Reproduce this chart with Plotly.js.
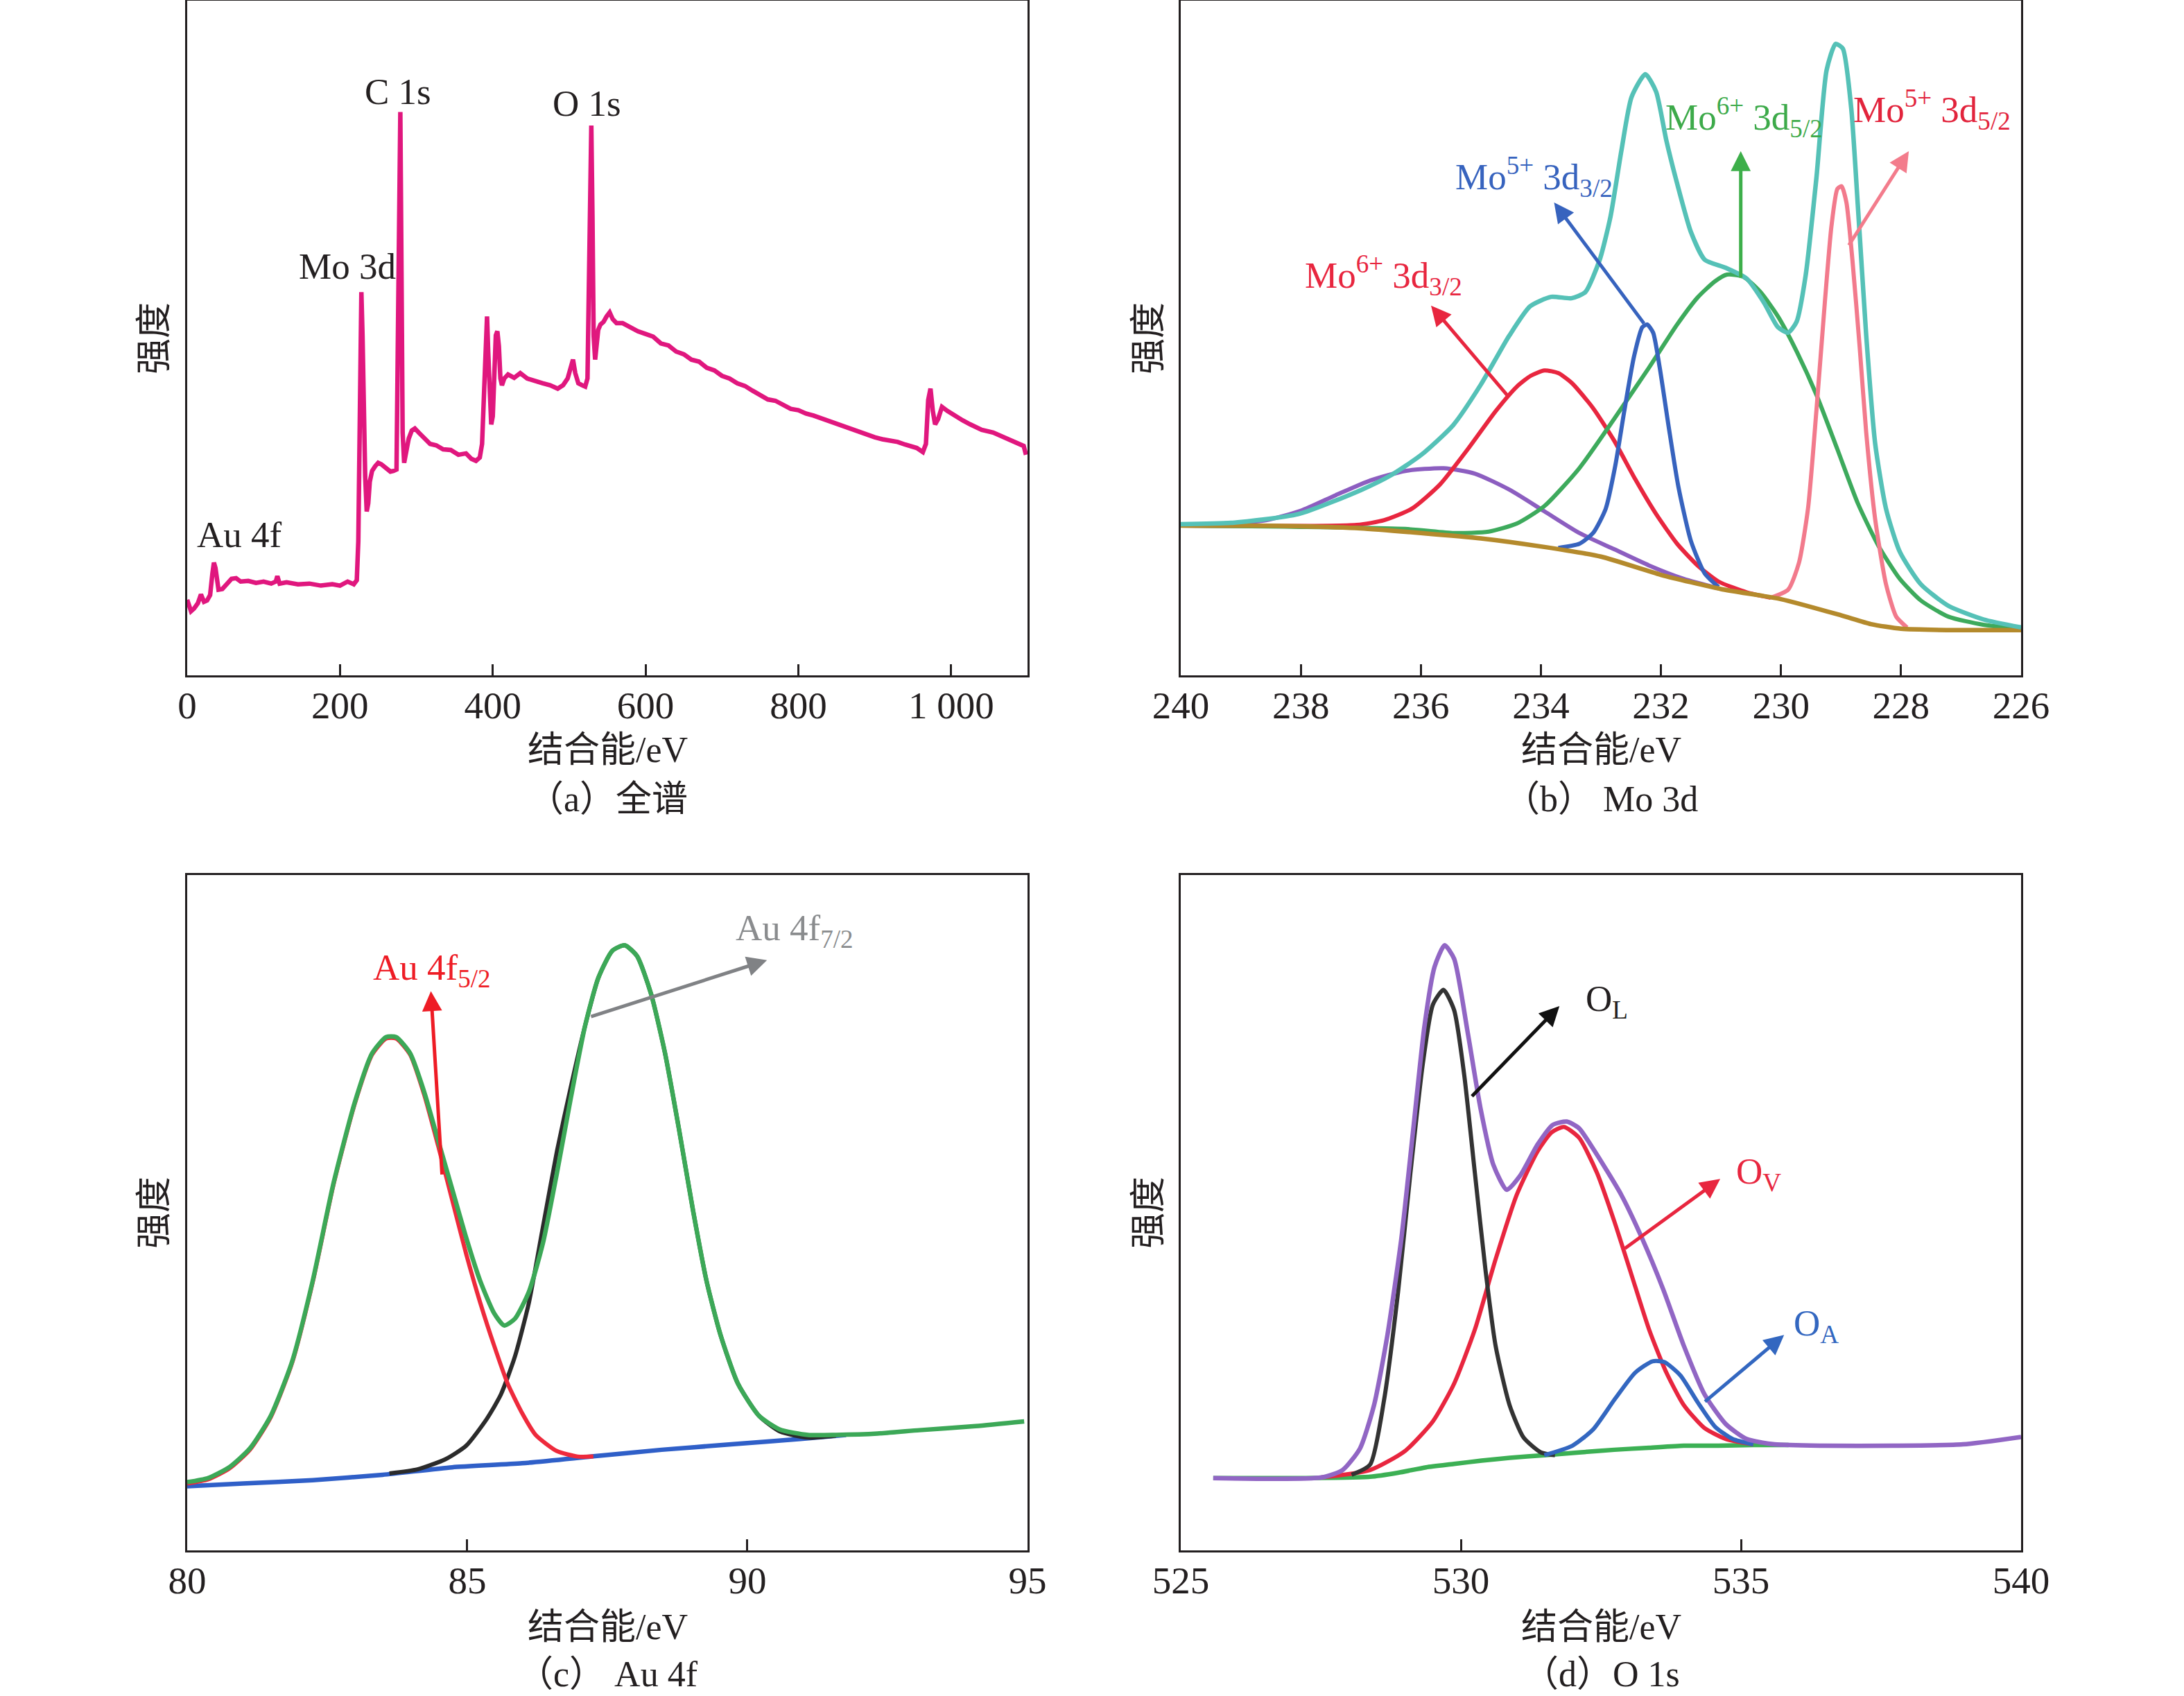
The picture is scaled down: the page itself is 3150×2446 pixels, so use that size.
<!DOCTYPE html>
<html>
<head>
<meta charset="utf-8">
<script src="https://cdn.plot.ly/plotly-3.0.1.min.js"></script>
<style>html,body{margin:0;padding:0;background:#fff;}#chart{width:3150px;height:2446px;}</style>
</head>
<body>
<div id="chart"></div>
<script>
// ---------- (a) survey ----------
const surveyE = [0,5,9,14,18,22,26,30,33,35,37,41,46,52,58,64,70,80,90,100,110,116,118,121,130,145,160,175,190,200,210,218,222,224,225.5,227,228,229.5,231,233,235,237,239,242,246,250,254,258,262,266,270,274,276,277.5,279,280.5,282,284,287,290,294,298,303,310,318,326,335,345,355,365,372,378,383,386,389,391,392.5,394,396,398,400,402,404,406,408,410,412,415,420,428,436,445,455,465,475,485,492,498,502,505,508,512,517,521,524,526,527.5,529,530.5,532,534,536,538,541,545,549,553,557,562,570,580,590,600,610,620,630,640,650,660,670,680,690,700,710,720,730,740,750,760,770,780,790,800,810,820,830,840,850,860,870,880,890,900,910,920,930,940,955,963,967,970,973,976,979,983,988,995,1005,1015,1025,1040,1055,1070,1085,1095,1098];
const surveyI = [11.2,9.5,9.9,10.7,12.0,10.9,11.1,11.9,15.1,16.7,15.9,12.7,12.8,13.5,14.3,14.4,13.9,14.0,13.7,13.9,13.6,13.9,14.7,13.6,13.8,13.5,13.6,13.3,13.5,13.3,13.9,13.5,14.1,19.9,36.0,55.2,56.8,50.4,39.2,29.5,24.3,25.5,28.7,30.3,31.0,31.5,31.3,31.0,30.7,30.2,30.3,30.5,52.0,82.5,83.5,60.0,36.0,31.5,33.1,35.1,36.3,36.6,36.0,35.1,34.3,34.1,33.5,33.4,32.7,32.9,32.1,31.8,32.3,34.3,44.0,52.8,53.2,48.0,40.0,37.2,38.4,44.0,50.4,51.0,48.8,44.0,43.0,44.0,44.6,44.1,44.8,44.0,43.6,43.3,43.0,42.5,43.0,44.0,45.6,46.8,44.8,43.3,43.0,42.8,44.0,64.0,80.9,81.5,68.1,50.4,46.8,48.8,51.2,52.0,52.4,53.2,53.8,52.8,52.2,52.2,51.6,51.0,50.6,50.2,49.2,48.9,48.0,47.6,46.8,46.5,45.6,45.2,44.4,44.0,43.3,42.9,42.2,41.6,40.9,40.7,40.1,39.5,39.3,38.8,38.5,38.1,37.6,37.2,36.8,36.5,36.0,35.7,35.3,35.0,34.8,34.6,34.2,33.7,33.1,34.3,40.8,42.5,39.2,37.2,38.0,39.8,39.2,38.4,37.8,37.2,36.4,36.0,35.3,34.6,34.0,32.7];
const surveyTickVals = [0,200,400,600,800,1000];
const surveyTickText = ['0','200','400','600','800','1 000'];

// ---------- (b) Mo 3d ----------
const moBgE = [240,239,238,237,236,235,234,233,232,231,230,229,228.5,228,227,226];
const moBgI = [22.2,22.2,22.1,21.8,21.1,20.3,19.1,17.6,14.9,12.8,11.3,8.9,7.6,6.9,6.7,6.7];
const moEnvE = [240,239.16,238.04,236.99,236.49,235.99,235.46,235.0,234.53,234.18,233.83,233.49,233.26,233.02,232.84,232.66,232.49,232.26,232.08,231.91,231.73,231.50,231.27,230.92,230.57,230.28,230.05,229.88,229.74,229.59,229.41,229.24,229.09,228.97,228.83,228.72,228.58,228.43,228.25,228.02,227.67,227.21,226.63,226.0];
const moEnvI = [22.4,22.6,23.9,27.5,29.7,32.7,37.1,43.1,50.3,54.7,56.1,55.9,56.8,61.6,68.0,77.7,85.7,89.1,86.5,79.3,72.9,65.7,61.6,60.4,58.8,55.2,51.6,50.8,52.4,59.2,73.7,89.7,93.6,92.9,84.1,69.7,50.4,34.3,24.7,18.3,13.5,10.3,8.3,7.1];
const moPurpleE = [240,238.58,238.0,237.42,236.84,236.26,235.62,235.1,234.52,233.94,233.36,232.78,232.2,231.62,231.04];
const moPurpleI = [22.2,23.0,24.4,26.7,28.9,30.3,30.7,29.9,27.5,24.3,21.1,18.7,16.3,14.3,12.9];
const mo6p32E = [240,237.07,236.61,236.15,235.68,235.22,234.75,234.4,234.17,233.94,233.71,233.48,233.13,232.78,232.43,232.08,231.73,231.39,231.04,230.57,230.17];
const mo6p32I = [22.2,22.3,23.0,24.7,28.3,33.5,39.2,42.8,44.4,45.2,44.8,43.3,39.6,34.8,29.1,23.9,19.5,16.3,13.9,12.3,11.5];
const mo5p32E = [233.71,233.36,233.13,232.92,232.76,232.61,232.45,232.31,232.23,232.13,232.02,231.87,231.71,231.50,231.27,231.04];
const mo5p32I = [18.9,19.5,21.1,24.7,31.1,39.2,47.2,51.6,52.0,50.8,45.6,36.8,28.0,19.9,15.1,13.1];
const mo6p52E = [240,236.26,235.45,234.87,234.4,233.94,233.36,232.78,232.2,231.73,231.39,231.1,230.9,230.63,230.34,230.05,229.76,229.41,229.06,228.72,228.37,228.02,227.67,227.21,226.63,226.0];
const mo6p52I = [22.2,21.7,21.1,21.3,22.5,25.1,30.7,38.0,45.6,52.0,56.0,58.4,59.4,59.1,56.8,53.2,48.4,41.6,33.5,25.5,19.1,14.3,11.1,8.7,7.5,6.9];
const mo5p52E = [230.17,229.88,229.70,229.55,229.41,229.27,229.16,229.06,228.99,228.91,228.81,228.69,228.58,228.43,228.25,228.08,227.9];
const mo5p52I = [11.5,12.7,16.7,24.7,39.2,55.2,66.5,72.1,72.5,70.1,61.6,48.8,36.0,23.1,13.5,8.7,7.1];
const moTickVals = [240,238,236,234,232,230,228,226];

// ---------- (c) Au 4f ----------
const auBgE = [80,81.0,82.24,83.49,84.73,85.98,87.22,88.47,89.71,90.95,91.76];
const auBgI = [9.5,9.9,10.4,11.2,12.3,12.9,13.9,14.9,15.7,16.5,17.1];
const auEnvE = [80,80.37,80.75,81.12,81.49,81.87,82.24,82.61,82.99,83.30,83.55,83.73,83.98,84.23,84.48,84.73,84.98,85.23,85.48,85.66,85.85,86.10,86.35,86.60,86.85,87.10,87.34,87.59,87.81,88.03,88.28,88.53,88.78,89.03,89.27,89.52,89.83,90.21,90.58,91.08,91.58,92.32,93.07,94.07,94.94];
const auEnvI = [10.1,10.7,12.3,15.1,19.9,27.9,39.9,54.3,66.3,73.6,76.0,76.0,73.6,67.9,60.7,53.5,46.3,39.9,35.1,33.3,34.3,38.3,45.5,55.9,67.1,77.6,84.8,88.8,89.6,88.0,82.4,73.6,62.3,50.3,39.9,31.9,24.7,19.9,17.9,17.1,17.1,17.3,17.8,18.4,19.1];
const au52E = [80,80.37,80.75,81.12,81.49,81.87,82.24,82.61,82.99,83.30,83.55,83.73,83.98,84.23,84.48,84.73,84.98,85.23,85.48,85.72,85.98,86.22,86.60,86.97,87.25];
const au52I = [9.9,10.5,12.1,14.9,19.7,27.7,39.7,54.1,66.1,73.4,75.8,75.8,73.4,67.5,59.9,51.9,43.9,36.7,30.3,24.7,20.3,17.1,14.7,13.9,13.9];
const au72E = [83.61,84.11,84.61,84.98,85.35,85.60,85.85,86.10,86.35,86.60,86.85,87.10,87.34,87.59,87.81,88.03,88.28,88.53,88.78,89.03,89.27,89.52,89.83,90.21,90.58,91.08,91.58];
const au72I = [11.4,12.0,13.5,15.5,19.5,23.1,28.7,36.7,47.9,59.1,68.7,77.6,84.8,88.8,89.6,88.0,82.4,73.6,62.3,50.3,39.9,31.9,24.7,19.9,17.6,16.7,17.0];
const auTickVals = [80,85,90,95];

// ---------- (d) O 1s ----------
const oBgE = [525.58,527.14,528.38,528.88,529.38,529.88,530.37,530.87,531.49,532.11,532.74,533.36,533.98,534.6,535.22,535.85];
const oBgI = [10.7,10.7,10.9,11.5,12.3,12.8,13.3,13.7,14.1,14.5,14.9,15.2,15.5,15.5,15.6,15.6];
const oEnvE = [525.58,527.51,527.89,528.2,528.45,528.69,528.94,529.15,529.35,529.53,529.71,529.88,530.12,530.35,530.58,530.82,531.06,531.37,531.64,531.89,532.11,532.36,532.86,533.23,533.61,533.98,534.35,534.73,535.1,535.6,536.47,537.71,538.96,540.0];
const oEnvI = [10.7,10.8,11.9,15.1,21.5,31.9,46.3,62.3,77.6,86.4,89.6,87.6,76.8,65.5,57.1,53.4,55.5,60.1,63.0,63.5,62.5,59.5,52.7,46.3,38.7,30.3,23.1,18.7,16.5,15.7,15.5,15.5,15.7,16.8];
const oLE = [528.05,528.38,528.63,528.88,529.1,529.32,529.5,529.69,529.88,530.06,530.25,530.44,530.62,530.87,531.12,531.43,531.68];
const oLI = [11.2,12.7,22.3,38.3,55.9,72.0,80.8,83.0,80.0,70.4,55.9,41.5,30.3,21.5,16.7,14.5,14.1];
const oVE = [527.51,528.38,529.0,529.5,529.88,530.25,530.62,531.0,531.37,531.62,531.84,532.11,532.43,532.74,533.05,533.36,533.67,533.98,534.35,534.73,535.22];
const oVI = [10.8,11.9,14.7,19.1,24.7,32.7,43.1,52.7,59.1,61.9,62.7,61.1,55.9,48.7,40.7,32.7,26.3,21.5,18.1,16.5,15.7];
const oAE = [531.49,531.99,532.36,532.74,533.11,533.42,533.63,533.92,534.23,534.54,534.85,535.22];
const oAI = [14.1,15.5,17.9,22.3,26.3,28.0,27.9,25.9,21.9,18.3,16.5,15.7];
const oTickVals = [525,530,535,540];

const FONT = "'Liberation Serif', 'Times New Roman', 'Noto Sans CJK SC', serif";
const INK = '#231f20';
const LW = 6;

function line(x, y, color, ax, width) {
  return {x: x, y: y, type: 'scatter', mode: 'lines', xaxis: 'x' + ax, yaxis: 'y' + ax,
          line: {color: color, width: width || LW, shape: 'spline', smoothing: 0.6},
          hoverinfo: 'skip', showlegend: false};
}

const traces = [
  {x: surveyE, y: surveyI, type: 'scatter', mode: 'lines', xaxis: 'x', yaxis: 'y',
   line: {color: '#e0177e', width: 6.5}, showlegend: false, hoverinfo: 'skip'},

  line(moPurpleE, moPurpleI, '#8c5ec0', '2'),
  line(mo6p32E, mo6p32I, '#e8263f', '2'),
  line(mo6p52E, mo6p52I, '#3daa5c', '2'),
  line(mo5p32E, mo5p32I, '#3763be', '2'),
  line(mo5p52E, mo5p52I, '#f27a8c', '2'),
  line(moBgE, moBgI, '#b48a2c', '2', 6.5),
  line(moEnvE, moEnvI, '#55c1b7', '2', 6.5),

  line(auBgE, auBgI, '#2f5fc8', '3', 6.5),
  line(au72E, au72I, '#2b2b2b', '3'),
  line(au52E, au52I, '#ee2a3c', '3'),
  line(auEnvE, auEnvI, '#3ca857', '3', 6.5),

  line(oBgE, oBgI, '#3cb054', '4', 6.5),
  line(oVE, oVI, '#e8263f', '4'),
  line(oLE, oLI, '#333333', '4'),
  line(oAE, oAI, '#3367c0', '4'),
  line(oEnvE, oEnvI, '#9166c4', '4', 6.5)
];

const XL = [0.085714, 0.470476], XR = [0.540635, 0.925397];
const YT = [0.601799, 0.999591], YB = [0.085855, 0.484056];

function xax(dom, anchor, range, vals, text) {
  const a = {domain: dom, anchor: anchor, range: range, tickmode: 'array', tickvals: vals,
    ticks: 'inside', ticklen: 16, tickwidth: 3, tickcolor: INK,
    showline: true, linewidth: 3, linecolor: INK, mirror: true,
    showgrid: false, zeroline: false, fixedrange: true,
    tickfont: {family: FONT, size: 55, color: INK}, ticklabelstandoff: -7};
  if (text) a.ticktext = text;
  return a;
}
function yax(dom, anchor) {
  return {domain: dom, anchor: anchor, range: [0, 100], showticklabels: false, ticks: '',
    showline: true, linewidth: 3, linecolor: INK, mirror: true,
    showgrid: false, zeroline: false, fixedrange: true};
}

function arrow(ax, x, y, tx, ty, color) {
  return {xref: 'x' + ax, yref: 'y' + ax, axref: 'x' + ax, ayref: 'y' + ax,
    x: x, y: y, ax: tx, ay: ty, text: '', showarrow: true,
    arrowhead: 2, arrowsize: 1.15, arrowwidth: 5, arrowcolor: color, standoff: 0, startstandoff: 0};
}
function label(ax, x, y, text, color, anchor) {
  return {xref: 'x' + ax, yref: 'y' + ax, x: x, y: y, text: text, showarrow: false,
    xanchor: anchor || 'center', yanchor: 'middle',
    font: {family: FONT, size: 53, color: color}};
}
function paperText(x, y, text, angle) {
  return {xref: 'paper', yref: 'paper', x: x, y: y, text: text, showarrow: false,
    xanchor: 'center', yanchor: 'middle', textangle: angle || 0,
    font: {family: FONT, size: 52, color: INK}};
}

const ax2 = '2', ax3 = '3', ax4 = '4';
const annotations = [
  // panel (a)
  {xref: 'x', yref: 'y', x: 275.5, y: 86.5, text: 'C 1s', showarrow: false, xanchor: 'center', yanchor: 'middle', font: {family: FONT, size: 53, color: INK}},
  {xref: 'x', yref: 'y', x: 523.6, y: 84.8, text: 'O 1s', showarrow: false, xanchor: 'center', yanchor: 'middle', font: {family: FONT, size: 53, color: INK}},
  {xref: 'x', yref: 'y', x: 210, y: 60.6, text: 'Mo 3d', showarrow: false, xanchor: 'center', yanchor: 'middle', font: {family: FONT, size: 53, color: INK}},
  {xref: 'x', yref: 'y', x: 68.2, y: 20.9, text: 'Au 4f', showarrow: false, xanchor: 'center', yanchor: 'middle', font: {family: FONT, size: 53, color: INK}},
  // panel (b)
  arrow(ax2, 235.83, 54.8, 234.53, 41.2, '#e8263f'),
  label(ax2, 236.62, 59.3, 'Mo<sup>6+</sup> 3d<sub>3/2</sub>', '#e8263f'),
  arrow(ax2, 233.78, 70.1, 232.27, 52.0, '#3763be'),
  label(ax2, 234.11, 73.9, 'Mo<sup>5+</sup> 3d<sub>3/2</sub>', '#3763be'),
  arrow(ax2, 230.67, 77.7, 230.67, 58.8, '#3daf4a'),
  label(ax2, 230.62, 82.7, 'Mo<sup>6+</sup> 3d<sub>5/2</sub>', '#3daa4a'),
  arrow(ax2, 227.87, 77.7, 228.88, 63.6, '#f37c8c'),
  label(ax2, 227.49, 83.9, 'Mo<sup>5+</sup> 3d<sub>5/2</sub>', '#e2243c'),
  // panel (c)
  arrow(ax3, 84.35, 82.8, 84.55, 55.5, '#ee1c25'),
  label(ax3, 84.37, 85.9, 'Au 4f<sub>5/2</sub>', '#ee1c25'),
  arrow(ax3, 90.35, 87.4, 87.19, 79.0, '#808285'),
  label(ax3, 90.84, 91.8, 'Au 4f<sub>7/2</sub>', '#8a8c8e'),
  // panel (d)
  arrow(ax4, 531.76, 80.6, 530.18, 67.1, '#111111'),
  label(ax4, 532.61, 81.3, 'O<sub>L</sub>', INK),
  arrow(ax4, 534.63, 55.0, 532.91, 44.6, '#e8263f'),
  label(ax4, 535.31, 55.7, 'O<sub>V</sub>', '#e8263f'),
  arrow(ax4, 535.77, 31.9, 534.34, 21.9, '#3367c0'),
  label(ax4, 536.34, 33.3, 'O<sub>A</sub>', '#3367c0'),
  // axis titles & captions
  paperText(0.27810, 0.55765, '结合能/eV'),
  paperText(0.73302, 0.55765, '结合能/eV'),
  paperText(0.27810, 0.040883, '结合能/eV'),
  paperText(0.73302, 0.040883, '结合能/eV'),
  paperText(0.27810, 0.52862, '（a）全谱'),
  paperText(0.73302, 0.52862, '（b） Mo 3d'),
  paperText(0.27810, 0.012674, '（c） Au 4f'),
  paperText(0.73302, 0.012674, '（d）O 1s'),
  paperText(0.070476, 0.80049, '强度', -90),
  paperText(0.525714, 0.80049, '强度', -90),
  paperText(0.070476, 0.284955, '强度', -90),
  paperText(0.525714, 0.284955, '强度', -90)
];

const layout = {
  width: 3150, height: 2446,
  margin: {l: 0, r: 0, t: 0, b: 0, pad: 0},
  paper_bgcolor: '#ffffff', plot_bgcolor: '#ffffff',
  showlegend: false,
  font: {family: FONT, color: INK},
  xaxis: xax(XL, 'y', [0, 1100], surveyTickVals, surveyTickText),
  yaxis: yax(YT, 'x'),
  xaxis2: xax(XR, 'y2', [240, 226], moTickVals),
  yaxis2: yax(YT, 'x2'),
  xaxis3: xax(XL, 'y3', [80, 95], auTickVals),
  yaxis3: yax(YB, 'x3'),
  xaxis4: xax(XR, 'y4', [525, 540], oTickVals),
  yaxis4: yax(YB, 'x4'),
  annotations: annotations
};

Plotly.newPlot('chart', traces, layout, {staticPlot: true, displayModeBar: false});
</script>
</body>
</html>
